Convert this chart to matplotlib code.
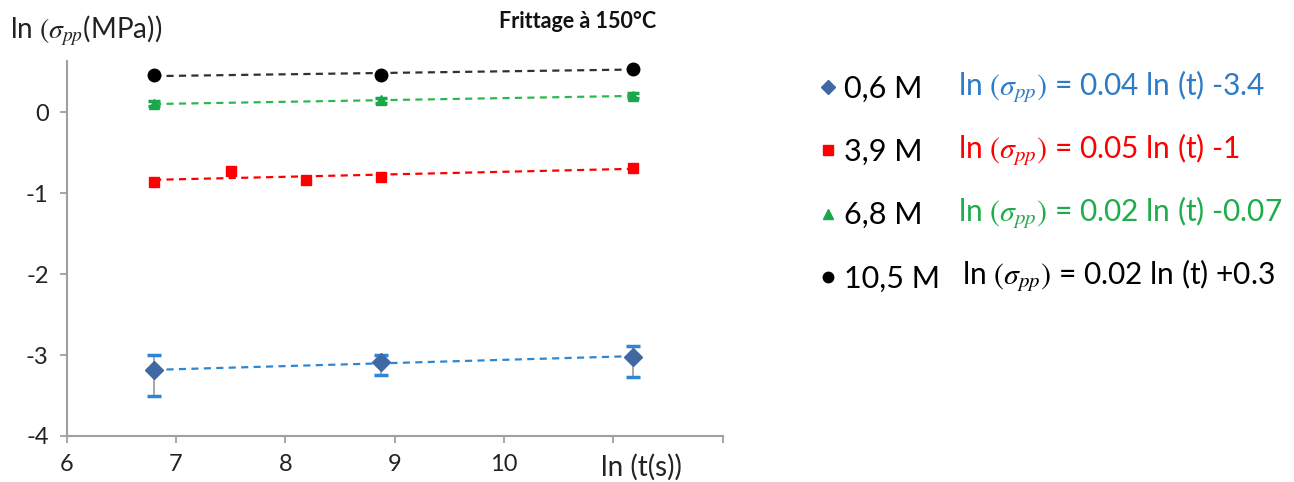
import numpy as np
import matplotlib
matplotlib.use("Agg")
import matplotlib.pyplot as plt
from matplotlib.lines import Line2D

plt.rcParams['font.family'] = ['Lato', 'DejaVu Sans']
plt.rcParams['mathtext.fontset'] = 'stix'

# ln(t) for 15 min, 30 min, 1 h, 2 h, 20 h of sintering
x_blue = [6.80, 8.88, 11.18]
y_blue = [-3.19, -3.09, -3.02]
err_blue_low = [0.316, 0.153, 0.25]
err_blue_high = [0.194, 0.09, 0.127]

x_red = [6.80, 7.50, 8.19, 8.88, 11.18]
y_red = [-0.868, -0.724, -0.84, -0.80, -0.688]

x_green = [6.80, 8.88, 11.18]
y_green = [0.10, 0.144, 0.20]
err_green = [0.03, 0.03, 0.03]

x_black = [6.80, 8.88, 11.18]
y_black = [0.455, 0.46, 0.535]

series_labels = ["0,6 M", "3,9 M", "6,8 M", "10,5 M"]
equations = [
    r"ln $(\sigma_{pp})$ = 0.04 ln (t) -3.4",
    r"ln $(\sigma_{pp})$ = 0.05 ln (t) -1",
    r"ln $(\sigma_{pp})$ = 0.02 ln (t) -0.07",
    r"ln $(\sigma_{pp})$ = 0.02 ln (t) +0.3",
]
x_ticks = [6, 7, 8, 9, 10, 11, 12]
x_ticklabels = ["6", "7", "8", "9", "10", "", ""]
y_ticks = [-4, -3, -2, -1, 0]
y_ticklabels = ["-4", "-3", "-2", "-1", "0"]

c_blue_line = "#2f86d6"
c_blue_mk = "#4069a3"
c_blue_txt = "#2c7cc7"
c_red = "#ff0000"
c_green_line = "#2cb850"
c_green_mk = "#1aa64a"
c_green_txt = "#1fad4c"
c_black = "#000000"
c_axis = "#a0a0a0"

fig = plt.figure(figsize=(12.94, 4.82), dpi=100)
ax = fig.add_axes([66.6 / 1294, 46 / 482, 656 / 1294, 375 / 482])

dash = (0, (3.2, 2.4))


def trend(ax, xs, ys, color):
    k, b = np.polyfit(xs, ys, 1)
    xx = np.array([min(xs), max(xs)])
    ax.plot(xx, k * xx + b, linestyle=dash, color=color, lw=1.6, zorder=2)


trend(ax, x_blue, y_blue, c_blue_line)
trend(ax, x_red, y_red, c_red)
trend(ax, x_green, y_green, c_green_line)
trend(ax, x_black, y_black, "#303030")

eb = ax.errorbar(x_blue, y_blue, yerr=[err_blue_low, err_blue_high], fmt='none',
                 ecolor="#9a9a9a", elinewidth=1.2, capsize=5, capthick=2.5, zorder=3)
for cap in eb[1]:
    cap.set_markeredgecolor(c_blue_line)
ebg = ax.errorbar(x_green, y_green, yerr=err_green, fmt='none',
                  ecolor=c_green_mk, elinewidth=1.2, capsize=4, capthick=2.5, zorder=3)

h_blue, = ax.plot(x_blue, y_blue, 'D', color=c_blue_mk, ms=9, ls='none', zorder=4)
h_red, = ax.plot(x_red, y_red, 's', color=c_red, ms=7.5, ls='none', zorder=4)
h_green, = ax.plot(x_green, y_green, '^', color=c_green_mk, ms=7, ls='none', zorder=4)
h_black, = ax.plot(x_black, y_black, 'o', color=c_black, ms=9, ls='none', zorder=4)

ax.set_xlim(6, 12)
ax.set_ylim(-4, 0.63)
ax.set_xticks(x_ticks)
ax.set_xticklabels(x_ticklabels)
ax.set_yticks(y_ticks)
ax.set_yticklabels(y_ticklabels)
for s in ["top", "right"]:
    ax.spines[s].set_visible(False)
for s in ["left", "bottom"]:
    ax.spines[s].set_color(c_axis)
    ax.spines[s].set_linewidth(1.5)
ax.tick_params(axis='both', direction='out', length=5, width=1.3, color=c_axis,
               labelsize=17, labelcolor="#222222")
ax.tick_params(axis='x', pad=8)
ax.tick_params(axis='y', pad=8)

fig.text(641 / 1294, 1 - 467 / 482, "ln (t(s))", fontsize=20, ha='center', va='center',
         color="#222222")
fig.text(10 / 1294, 1 - 31 / 482, r"ln $(\sigma_{pp}$(MPa))", fontsize=20, ha='left',
         va='center', color="#222222")
fig.text(578 / 1294, 1 - 22 / 482, "Frittage à 150°C", fontsize=15.5, fontweight='bold',
         ha='center', va='center', color="#111111")

# legend: markers with concentration labels
handles = [
    Line2D([], [], marker='D', color=c_blue_mk, ls='none', ms=7.5),
    Line2D([], [], marker='s', color=c_red, ls='none', ms=6.5),
    Line2D([], [], marker='^', color=c_green_mk, ls='none', ms=7.5),
    Line2D([], [], marker='o', color=c_black, ls='none', ms=7.5),
]
leg = fig.legend(handles, series_labels, loc='upper left',
                 bbox_to_anchor=(820 / 1294, 1 - 75 / 482), frameon=False,
                 fontsize=22, handlelength=0.5, handletextpad=0.3,
                 labelspacing=1.15, borderaxespad=0, borderpad=0)

eq_colors = [c_blue_txt, c_red, c_green_txt, c_black]
eq_x = [958, 958, 958, 962]
eq_y = [87, 150, 213, 276]
for txt, col, xp, yp in zip(equations, eq_colors, eq_x, eq_y):
    fig.text(xp / 1294, 1 - yp / 482, txt, fontsize=21.5, color=col, ha='left', va='center')

fig.savefig("out.png", dpi=100)
